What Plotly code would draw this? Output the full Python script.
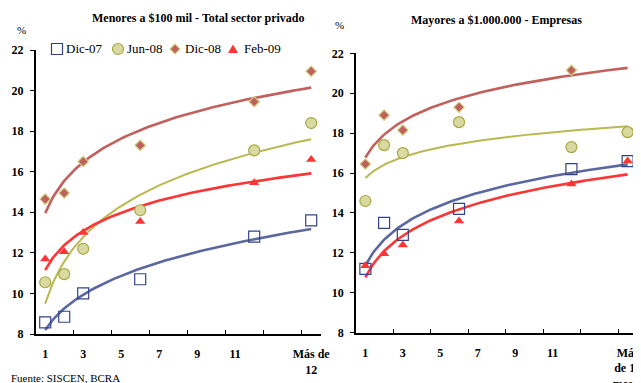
import numpy as np
import plotly.graph_objects as go

# ---------------- data ----------------
months = [1, 2, 3, 6, 12, 15]          # 15 = "Más de 12 meses"
series_names = ["Dic-07", "Jun-08", "Dic-08", "Feb-09"]

left_title = "Menores a $100 mil - Total sector privado"
right_title = "Mayores a $1.000.000 - Empresas"

tick_positions = [1, 3, 5, 7, 9, 11, 15]
left_ticktext = ["1", "3", "5", "7", "9", "11", "Más de<br>12<br>meses"]
right_ticktext = ["1", "3", "5", "7", "9", "11", "Más<br>de 12<br>meses"]
minor_ticks = [2.5, 4.5, 6.5, 8.5, 10.5, 12.5, 14.5]
y_ticks = [8, 10, 12, 14, 16, 18, 20, 22]

menores_dic07 = [8.57, 8.85, 10.0, 10.7, 12.8, 13.6]
menores_jun08 = [10.55, 10.95, 12.2, 14.1, 17.05, 18.4]
menores_dic08 = [14.65, 14.95, 16.5, 17.3, 19.45, 20.95]
menores_feb09 = [11.7, 12.05, 13.0, 13.55, 15.45, 16.6]

mayores_dic07 = [11.2, 13.5, 12.9, 14.2, 16.2, 16.6]
mayores_jun08 = [14.6, 17.4, 17.0, 18.55, 17.3, 18.05]
mayores_dic08 = [16.45, 18.9, 18.15, 19.3, 21.15, None]
mayores_feb09 = [11.35, 11.95, 12.4, 13.6, 15.45, 16.6]

# trendline type used for each series (as in the original chart)
menores_trend = ["power", "log", "log", "log"]
mayores_trend = ["log", "log", "log", "log"]

# ---------------- styles ----------------
# The page body has an 8px default margin, so the figure is drawn 8px in
# from the top-left corner of the 641x383 window.
OFF = 8
W, H = 641 - OFF, 383 - OFF
SERIF = "Liberation Serif"

styles = {
    "Dic-07": dict(marker=dict(symbol="square-open", size=11, color="#34428a",
                               line=dict(width=1.2, color="#34428a")),
                   line=dict(color="#5b68a0", width=2.6)),
    "Jun-08": dict(marker=dict(symbol="circle", size=11, color="#d9d9a2",
                               line=dict(width=1.2, color="#a8a840")),
                   line=dict(color="#b9b951", width=2.0)),
    "Dic-08": dict(marker=dict(symbol="diamond", size=8, color="#c0605c",
                               line=dict(width=1.2, color="#cfcf80")),
                   line=dict(color="#c2605e", width=2.6)),
    "Feb-09": dict(marker=dict(symbol="triangle-up", size=9, color="#ff3535",
                               line=dict(width=0, color="#ff3535")),
                   line=dict(color="#ff3535", width=2.6)),
}


def px(x):
    return (x - OFF) / W


def py(y):
    return 1 - (y - OFF) / H


fig = go.Figure()

panels = [
    ("x", "y", [menores_dic07, menores_jun08, menores_dic08, menores_feb09], menores_trend),
    ("x2", "y2", [mayores_dic07, mayores_jun08, mayores_dic08, mayores_feb09], mayores_trend),
]

xs_fit = np.linspace(1, 15, 120)
for xa, ya, data, trends in panels:
    # trend lines (drawn first, beneath markers)
    for name, vals, kind in zip(series_names, data, trends):
        mx = np.array([m for m, v in zip(months, vals) if v is not None], float)
        my = np.array([v for v in vals if v is not None], float)
        if kind == "power":
            b, a = np.polyfit(np.log(mx), np.log(my), 1)
            fy = np.exp(a) * xs_fit ** b
        else:
            b, a = np.polyfit(np.log(mx), my, 1)
            fy = a + b * np.log(xs_fit)
        fig.add_trace(go.Scatter(x=xs_fit, y=fy, mode="lines",
                                 line=styles[name]["line"], xaxis=xa, yaxis=ya,
                                 showlegend=False, hoverinfo="skip"))
    for name, vals in zip(series_names, data):
        fig.add_trace(go.Scatter(x=months, y=vals, mode="markers", name=name,
                                 marker=styles[name]["marker"], xaxis=xa, yaxis=ya,
                                 showlegend=False, cliponaxis=False))

tickfont = dict(family=SERIF, size=12, color="black", weight="bold")


def xaxis_cfg(domain, ticktext, anchor):
    return dict(domain=domain, range=[0.5, 15.5], tickmode="array",
                tickvals=tick_positions, ticktext=ticktext, ticks="",
                showline=True, linecolor="black", linewidth=1.5,
                showgrid=False, zeroline=False, tickfont=tickfont,
                ticklabelstandoff=8, anchor=anchor, automargin=False,
                ticklabeloverflow="allow",
                minor=dict(tickmode="array", tickvals=minor_ticks, ticks="inside",
                           ticklen=4, tickcolor="black", tickwidth=1.2, showgrid=False))


def yaxis_cfg(domain, anchor):
    return dict(domain=domain, range=[8, 22], tickmode="array", tickvals=y_ticks,
                ticks="outside", ticklen=4, tickcolor="black", tickwidth=1.2,
                showline=True, linecolor="black", linewidth=1.5,
                showgrid=False, zeroline=False, tickfont=tickfont,
                ticklabelstandoff=4, anchor=anchor, automargin=False)


fig.update_layout(
    width=W, height=H, margin=dict(l=0, r=0, t=0, b=0, pad=0, autoexpand=False),
    paper_bgcolor="white", plot_bgcolor="white", showlegend=False,
    xaxis=xaxis_cfg([px(35.7), px(320.7)], left_ticktext, "y"),
    yaxis=yaxis_cfg([py(334), py(50)], "x"),
    xaxis2=xaxis_cfg([px(356), px(637)], right_ticktext, "y2"),
    yaxis2=yaxis_cfg([py(332.7), py(53.3)], "x2"),
)


def note(text, x, y, size, xanchor="center", yanchor="middle"):
    return dict(text=text, x=px(x), y=py(y), xref="paper", yref="paper",
                xanchor=xanchor, yanchor=yanchor, showarrow=False,
                font=dict(family=SERIF, size=size, color="black"))


ann = [
    note("<b>" + left_title + "</b>", 198, 18, 12),
    note("<b>" + right_title + "</b>", 496, 20, 12),
    note("%", 21.5, 30, 11),
    note("%", 339, 25, 11),
    note("Fuente: SISCEN, BCRA", 9, 378, 11, xanchor="left"),
]

# manual legend (keys as shapes, labels as annotations)
leg_y = 49
leg_keys = [57, 118, 175, 233]
leg_text_x = [64, 125, 183, 242]
shapes = []
for name, kx, tx in zip(series_names, leg_keys, leg_text_x):
    st = styles[name]["marker"]
    if name == "Dic-07":
        shapes.append(dict(type="rect", xref="paper", yref="paper",
                           x0=px(kx - 5.5), x1=px(kx + 5.5), y0=py(leg_y + 5.5), y1=py(leg_y - 5.5),
                           line=dict(color=st["color"], width=1.2), fillcolor="white"))
    elif name == "Jun-08":
        shapes.append(dict(type="circle", xref="paper", yref="paper",
                           x0=px(kx - 5.5), x1=px(kx + 5.5), y0=py(leg_y + 5.5), y1=py(leg_y - 5.5),
                           line=dict(color=st["line"]["color"], width=1.2), fillcolor=st["color"]))
    elif name == "Dic-08":
        p = "M{},{} L{},{} L{},{} L{},{} Z".format(px(kx - 5), py(leg_y), px(kx), py(leg_y - 5),
                                                  px(kx + 5), py(leg_y), px(kx), py(leg_y + 5))
        shapes.append(dict(type="path", xref="paper", yref="paper", path=p,
                           line=dict(color=st["line"]["color"], width=1.2), fillcolor=st["color"]))
    else:
        p = "M{},{} L{},{} L{},{} Z".format(px(kx - 5), py(leg_y + 4), px(kx + 5), py(leg_y + 4),
                                           px(kx), py(leg_y - 4.5))
        shapes.append(dict(type="path", xref="paper", yref="paper", path=p,
                           line=dict(color=st["color"], width=0), fillcolor=st["color"]))
    ann.append(note(name, tx, leg_y, 13, xanchor="left"))

fig.update_layout(annotations=ann, shapes=shapes)
fig.write_html("out.html")
